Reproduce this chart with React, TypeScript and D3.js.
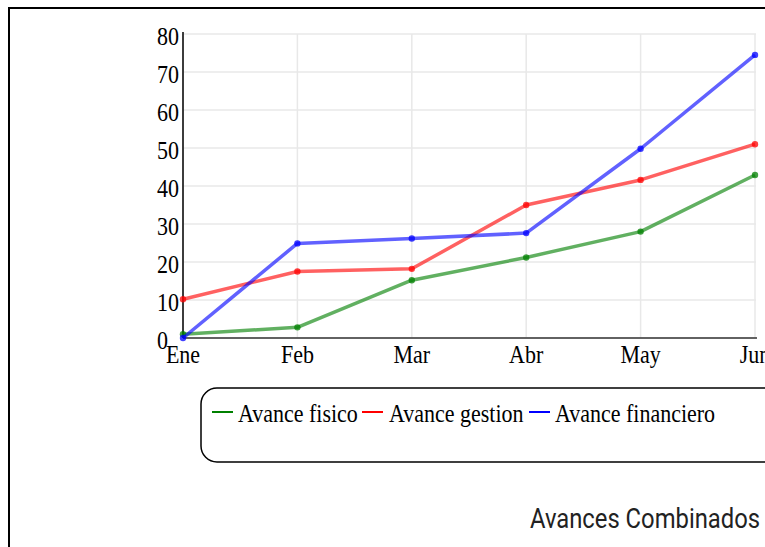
import React from "react";
import * as d3 from "d3";

const months = ["Ene", "Feb", "Mar", "Abr", "May", "Jun"];
const yTicks = [0, 10, 20, 30, 40, 50, 60, 70, 80];
const avanceFisico = [1, 2.8, 15.2, 21.2, 28, 42.9];
const avanceGestion = [10.2, 17.5, 18.2, 35, 41.6, 51];
const avanceFinanciero = [0, 24.9, 26.2, 27.6, 49.8, 74.5];

const series = [
  { name: "Avance fisico", values: avanceFisico, color: "rgb(0,128,0)" },
  { name: "Avance gestion", values: avanceGestion, color: "rgb(255,0,0)" },
  { name: "Avance financiero", values: avanceFinanciero, color: "rgb(0,0,255)" },
];

const W = 765;
const H = 547;
const serif = "'Liberation Serif', 'Times New Roman', serif";

export default function App() {
  const x = d3.scalePoint<string>().domain(months).range([183, 755]);
  const y = d3.scaleLinear().domain([0, 80]).range([338, 34]);
  const line = d3
    .line<number>()
    .x((_, i) => x(months[i]) as number)
    .y((d) => y(d));

  const legendItems = [
    { lx: 212, tx: 238 },
    { lx: 362, tx: 389 },
    { lx: 529, tx: 555 },
  ];

  const st = (tx: number, ty: number) => `translate(${tx},${ty}) scale(1,1.1)`;

  return (
    <svg
      width={W}
      height={H}
      style={{ position: "absolute", left: 0, top: 0, background: "#fff" }}
    >
      <rect x={0} y={0} width={W} height={H} fill="#fff" />
      {/* outer frame */}
      <rect x={9} y={8} width={W + 20} height={H + 20} fill="none" stroke="#000" strokeWidth={2} />

      {/* grid */}
      {yTicks.map((t) => (
        <line key={"h" + t} x1={183} x2={756} y1={y(t)} y2={y(t)} stroke="#e8e8e8" strokeWidth={1.5} />
      ))}
      {months.map((m) => (
        <line key={"v" + m} x1={x(m)} x2={x(m)} y1={y(80)} y2={y(0)} stroke="#e8e8e8" strokeWidth={1.5} />
      ))}

      {/* axes */}
      <line x1={183} x2={183} y1={y(80) - 2} y2={y(0)} stroke="#000" strokeWidth={1.5} />
      <line x1={183} x2={757} y1={y(0)} y2={y(0)} stroke="#333" strokeWidth={1.5} />

      {/* y tick labels */}
      {yTicks.map((t) => (
        <g key={"yl" + t} transform={st(157, y(t) + 11)}>
          <text fontFamily={serif} fontSize={22} fill="#000" textAnchor="start">
            {t}
          </text>
        </g>
      ))}

      {/* x tick labels */}
      {months.map((m) => (
        <g key={"xl" + m} transform={st(x(m) as number, 363)}>
          <text fontFamily={serif} fontSize={22} fill="#000" textAnchor="middle">
            {m}
          </text>
        </g>
      ))}

      {/* lines */}
      {series.map((s) => (
        <g key={s.name}>
          <path d={line(s.values) || ""} fill="none" stroke={s.color} strokeOpacity={0.62} strokeWidth={3.5} strokeLinejoin="round" />
          {s.values.map((v, i) => (
            <circle key={i} cx={x(months[i])} cy={y(v)} r={3.2} fill={s.color} fillOpacity={0.75} />
          ))}
        </g>
      ))}

      {/* legend */}
      <rect x={201} y={388} width={600} height={74} rx={16} ry={16} fill="#fff" stroke="#000" strokeWidth={1.5} />
      {series.map((s, i) => (
        <g key={"lg" + s.name}>
          <line x1={legendItems[i].lx} x2={legendItems[i].lx + 21} y1={412} y2={412} stroke={s.color} strokeWidth={2} />
          <g transform={st(legendItems[i].tx, 422)}>
            <text fontFamily={serif} fontSize={22} fill="#000">
              {s.name}
            </text>
          </g>
        </g>
      ))}

      {/* title */}
      <text
        x={530}
        y={528}
        fontFamily="Roboto, 'Liberation Sans', Arial, sans-serif"
        fontSize={28}
        textLength={230}
        lengthAdjust="spacingAndGlyphs"
        fill="#222"
      >
        Avances Combinados
      </text>
    </svg>
  );
}
